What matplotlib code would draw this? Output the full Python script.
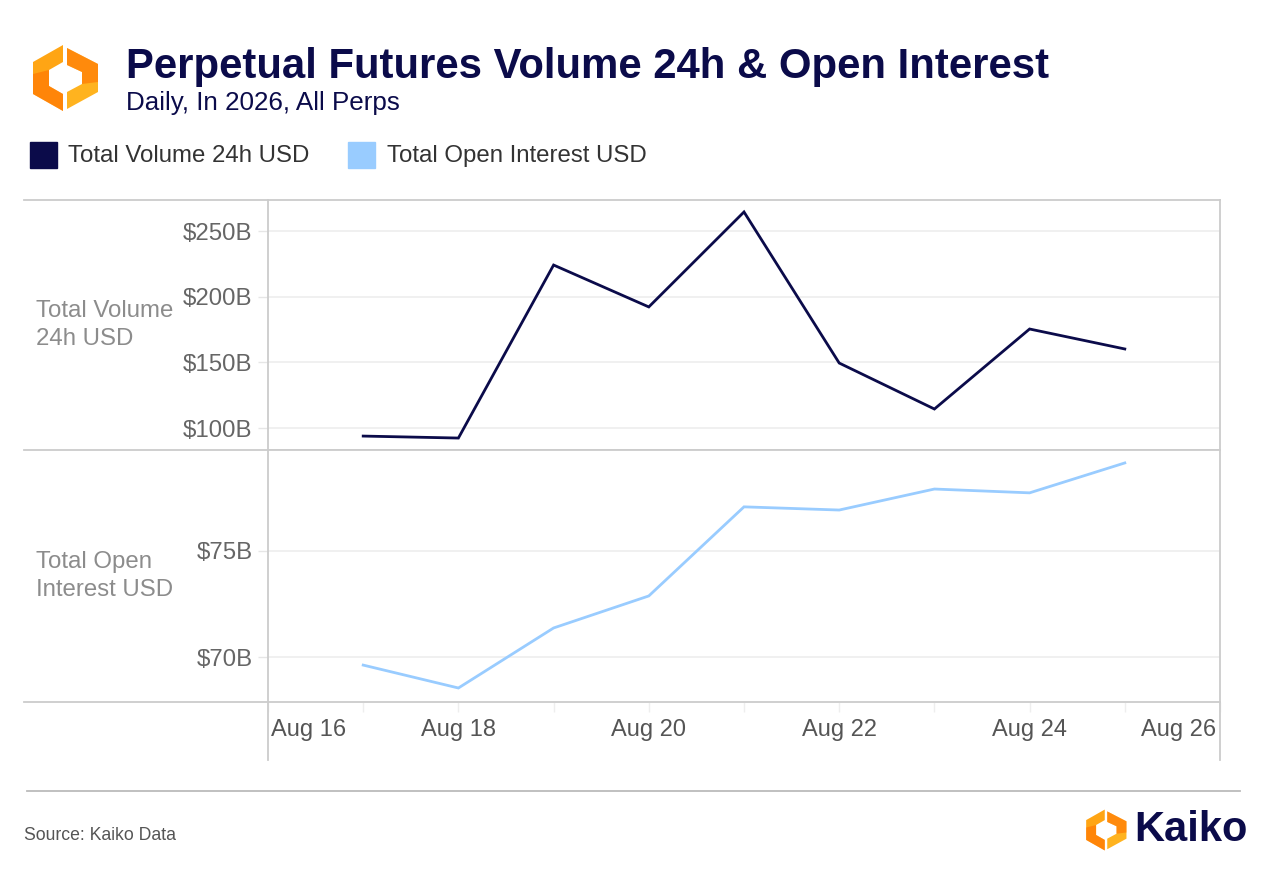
import matplotlib
matplotlib.use("Agg")
import matplotlib.pyplot as plt
import matplotlib.dates as mdates
from matplotlib.lines import Line2D
from matplotlib.patches import Polygon
from matplotlib.ticker import FuncFormatter
import pandas as pd

# data (billions USD)
dates = pd.date_range("2026-08-17", "2026-08-25", freq="D")
volume_24h = [93.9, 92.4, 224.1, 192.2, 264.5, 149.5, 114.5, 175.4, 160.2]
open_interest = [69.62, 68.54, 71.37, 72.88, 77.08, 76.93, 77.92, 77.74, 79.15]

vol_ticks = [100, 150, 200, 250]
oi_ticks = [70, 75]
label_dates = pd.date_range("2026-08-16", "2026-08-26", freq="2D")

navy = "#0b0b4a"
light_blue = "#99ccff"
frame = "#cccccc"
grid = "#eeeeee"

plt.rcParams["font.family"] = ["Liberation Sans", "DejaVu Sans"]

W, H = 1280, 874
fig = plt.figure(figsize=(W / 100, H / 100), dpi=100)


def fx(px):
    return px / W


def fy(py):
    return 1 - py / H


def box(x0, y0, x1, y1):
    return [fx(x0), fy(y1), fx(x1) - fx(x0), fy(y0) - fy(y1)]


ax1 = fig.add_axes(box(268, 200, 1220, 450))
ax2 = fig.add_axes(box(268, 450, 1220, 702), sharex=ax1)

ax1.plot(dates, volume_24h, color=navy, lw=2.0, solid_joinstyle="miter")
ax2.plot(dates, open_interest, color=light_blue, lw=2.0, solid_joinstyle="miter")

xmin = pd.Timestamp("2026-08-16")
xmax = pd.Timestamp("2026-08-26")
ax1.set_xlim(xmin, xmax)
ax1.set_ylim(83.3, 273.6)
ax2.set_ylim(67.88, 79.76)

ax1.set_yticks(vol_ticks)
ax2.set_yticks(oi_ticks)
fmt = FuncFormatter(lambda v, p: f"${v:.0f}B")
ax1.yaxis.set_major_formatter(fmt)
ax2.yaxis.set_major_formatter(fmt)

for ax in (ax1, ax2):
    ax.grid(axis="y", color=grid, lw=1.2)
    ax.set_axisbelow(True)
    for s in ax.spines.values():
        s.set_color(frame)
        s.set_linewidth(1.3)
    ax.tick_params(axis="y", length=7, width=1, color="#e6e6e6", pad=4,
                   labelsize=17.3, labelcolor="#666666")

ax1.tick_params(axis="x", bottom=False, labelbottom=False)
ax2.xaxis.set_major_locator(mdates.DayLocator())
ax2.xaxis.set_major_formatter(FuncFormatter(lambda v, p: ""))
ax2.tick_params(axis="x", length=7, width=1, color="#eeeeee", pad=0)

# x labels every two days, drawn as text under the lower panel
for d in label_dates:
    ha = "center"
    off = 0
    if d == xmin:
        ha, off = "left", 3
    elif d == xmax:
        ha, off = "right", -4
    xpos = mdates.date2num(d)
    ax2.annotate(d.strftime("Aug %d").replace(" 0", " "), (xpos, 0),
                 xycoords=("data", "axes fraction"), xytext=(off, -28),
                 textcoords="offset pixels", ha=ha, va="center",
                 fontsize=17, color="#555555")

# frame lines that run outside the axes
fig_lines = [
    ((24, 268), (200, 200)),
    ((24, 268), (450, 450)),
    ((24, 268), (702, 702)),
    ((268, 268), (702, 760)),
    ((1220, 1220), (702, 760)),
]
for xs, ys in fig_lines:
    fig.add_artist(Line2D([fx(x) for x in xs], [fy(y) for y in ys],
                          color=frame, lw=1.3))
fig.add_artist(Line2D([fx(27), fx(1240)], [fy(791), fy(791)], color="#bbbbbb", lw=1.3))

# axis titles
fig.text(fx(36), fy(325), "Total Volume\n24h USD", ha="left", va="center",
         fontsize=17.3, color="#8c8c8c", linespacing=1.3)
fig.text(fx(36), fy(576), "Total Open\nInterest USD", ha="left", va="center",
         fontsize=17.3, color="#8c8c8c", linespacing=1.3)

# title block
fig.text(fx(126), fy(67), "Perpetual Futures Volume 24h & Open Interest",
         ha="left", va="center", fontsize=30.2, fontweight="bold", color=navy)
fig.text(fx(126), fy(103), "Daily, In 2026, All Perps", ha="left", va="center",
         fontsize=18.7, color=navy)

# legend
fig.add_artist(plt.Rectangle((fx(30), fy(168)), fx(27), fy(142) - fy(168),
                             color=navy, transform=fig.transFigure))
fig.text(fx(68), fy(156), "Total Volume 24h USD", ha="left", va="center",
         fontsize=17.3, color="#333333")
fig.add_artist(plt.Rectangle((fx(348), fy(168)), fx(27), fy(142) - fy(168),
                             color=light_blue, transform=fig.transFigure))
fig.text(fx(387), fy(156), "Total Open Interest USD", ha="left", va="center",
         fontsize=17.3, color="#333333")


def logo(cx, cy, s):
    # two orange chevrons making a broken hexagon
    left = [(-2, -33), (-32, -16), (-32, 16), (-2, 33), (-2, 16), (-16, 8),
            (-16, -8), (-2, -16)]
    right = [(2, -30), (33, -14), (33, 14), (2, 31), (2, 14), (17, 6),
             (17, -6), (2, -13)]
    for pts, col in ((left, "#ffa514"), (right, "#ffb31f")):
        poly = [(fx(cx + px * s), fy(cy + py * s)) for px, py in pts]
        fig.add_artist(Polygon(poly, closed=True, facecolor=col,
                               edgecolor="none", transform=fig.transFigure))
    inner_l = [(-32, -4), (-16, -8), (-16, 8), (-2, 16), (-2, 33), (-32, 16)]
    poly = [(fx(cx + px * s), fy(cy + py * s)) for px, py in inner_l]
    fig.add_artist(Polygon(poly, closed=True, facecolor="#ff7000", alpha=0.6,
                           edgecolor="none", transform=fig.transFigure))
    inner_r = [(33, -14), (33, 4), (17, 6), (17, -6), (2, -13), (2, -30)]
    poly = [(fx(cx + px * s), fy(cy + py * s)) for px, py in inner_r]
    fig.add_artist(Polygon(poly, closed=True, facecolor="#ff7000", alpha=0.6,
                           edgecolor="none", transform=fig.transFigure))


logo(65, 78, 1.0)
logo(1106, 830, 0.62)
fig.text(fx(1134), fy(830), "Kaiko", ha="left", va="center", fontsize=30,
         fontweight="bold", color=navy)

fig.text(fx(24), fy(835), "Source: Kaiko Data", ha="left", va="center",
         fontsize=12.7, color="#555555")

fig.savefig("out.png", dpi=100, facecolor="white")
